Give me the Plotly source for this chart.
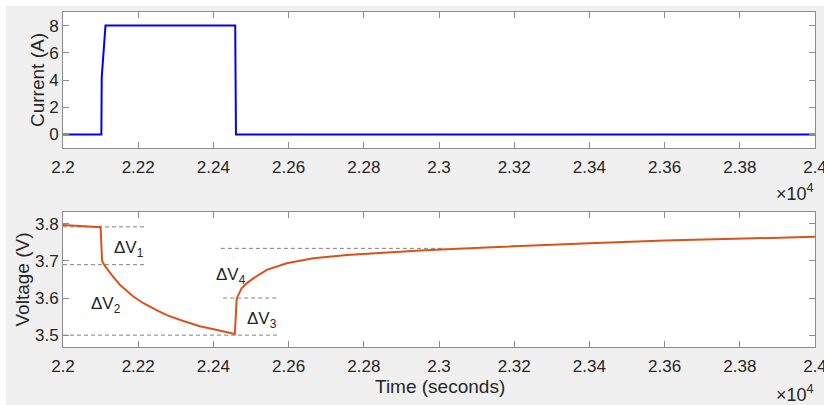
import plotly.graph_objects as go

W, H = 824, 405

# ---------------- data ----------------
cur_t = [22000, 22102, 22103, 22113, 22458, 22460, 24000]
cur_i = [0, 0, 4.2, 8, 8, 0, 0]

volt_t = [22000, 22050, 22100, 22104, 22112, 22130, 22152, 22187, 22214, 22250, 22276,
          22320, 22364, 22410, 22457, 22460, 22462, 22475, 22490, 22506, 22542, 22595,
          22666, 22755, 22843, 22950, 23050, 23200, 23400, 23600, 23800, 24000]
volt_v = [3.797, 3.794, 3.791, 3.700, 3.686, 3.662, 3.635, 3.604, 3.586, 3.567, 3.554,
          3.538, 3.524, 3.514, 3.503, 3.560, 3.599, 3.626, 3.641, 3.653, 3.676, 3.694,
          3.707, 3.716, 3.722, 3.728, 3.733, 3.740, 3.748, 3.755, 3.760, 3.765]

# dashed reference levels: (start time, end time, voltage)
ref_start = [22000, 22000, 22000, 22426, 22420]
ref_end = [22218, 22220, 22577, 22572, 23016]
ref_level = [3.792, 3.690, 3.500, 3.600, 3.734]

# delta labels: text, time, voltage
dv_text = ["ΔV<sub>1</sub>", "ΔV<sub>2</sub>", "ΔV<sub>4</sub>", "ΔV<sub>3</sub>"]
dv_t = [22130, 22069, 22402, 22484]
dv_v = [3.733, 3.582, 3.659, 3.541]

x_tickvals = [22000, 22200, 22400, 22600, 22800, 23000, 23200, 23400, 23600, 23800, 24000]
x_ticktext = ["2.2", "2.22", "2.24", "2.26", "2.28", "2.3", "2.32", "2.34", "2.36", "2.38", "2.4"]
cur_ticks = [0, 2, 4, 6, 8]
volt_ticks = [3.5, 3.6, 3.7, 3.8]
volt_ticktext = ["3.5", "3.6", "3.7", "3.8"]

# ---------------- figure ----------------
FONT = "Liberation Sans, Arial, Helvetica, sans-serif"
TXT = "#262626"
AX = "#8c8c8c"

fig = go.Figure()
fig.add_trace(go.Scatter(x=cur_t, y=cur_i, mode="lines",
                         line=dict(color="#0000ff", width=2), xaxis="x", yaxis="y",
                         showlegend=False))
for s, e, v in zip(ref_start, ref_end, ref_level):
    fig.add_trace(go.Scatter(x=[s, e], y=[v, v], mode="lines",
                             line=dict(color="#808080", width=1, dash="4px,3px"),
                             xaxis="x2", yaxis="y2", showlegend=False))
fig.add_trace(go.Scatter(x=volt_t, y=volt_v, mode="lines",
                         line=dict(color="#D95319", width=2), xaxis="x2", yaxis="y2",
                         showlegend=False))

def px_x(p):
    return p / W

def px_y(p):
    return 1 - p / H

xdom = [px_x(63), px_x(815)]
common_x = dict(range=[22000, 24000], tickvals=x_tickvals, ticktext=x_ticktext,
                ticks="inside", ticklen=6, tickcolor=AX, showline=True, linecolor=AX,
                linewidth=1, mirror="ticks", showgrid=False, zeroline=False,
                tickfont=dict(family=FONT, size=17, color=TXT), automargin=False,
                ticklabeloverflow="allow", ticklabelstandoff=4)
common_y = dict(ticks="inside", ticklen=6, tickcolor=AX, showline=True, linecolor=AX,
                linewidth=1, mirror="ticks", showgrid=False, zeroline=False,
                tickfont=dict(family=FONT, size=17, color=TXT), automargin=False)

fig.update_layout(
    width=W, height=H,
    margin=dict(l=0, r=0, t=0, b=0),
    paper_bgcolor="#f0f0f0", plot_bgcolor="#ffffff",
    xaxis=dict(domain=xdom, anchor="y", **common_x),
    yaxis=dict(domain=[px_y(148), px_y(12)], anchor="x", range=[-1, 9],
               tickvals=cur_ticks, **common_y),
    xaxis2=dict(domain=xdom, anchor="y2", **common_x),
    yaxis2=dict(domain=[px_y(347), px_y(212)], anchor="x2", range=[3.468, 3.832],
                tickvals=volt_ticks, ticktext=volt_ticktext, **common_y),
)

# white outer border strips (left/top) like the reference
fig.add_shape(type="rect", xref="paper", yref="paper", x0=0, x1=px_x(6), y0=0, y1=1,
              fillcolor="#ffffff", line_width=0, layer="above")
fig.add_shape(type="rect", xref="paper", yref="paper", x0=0, x1=1, y0=px_y(6), y1=1,
              fillcolor="#ffffff", line_width=0, layer="above")

# axis titles
fig.add_annotation(text="Current (A)", xref="paper", yref="paper", x=px_x(37), y=px_y(80),
                   textangle=-90, showarrow=False, xanchor="center", yanchor="middle",
                   font=dict(family=FONT, size=19, color=TXT))
fig.add_annotation(text="Voltage (V)", xref="paper", yref="paper", x=px_x(21.5), y=px_y(280),
                   textangle=-90, showarrow=False, xanchor="center", yanchor="middle",
                   font=dict(family=FONT, size=19, color=TXT))
fig.add_annotation(text="Time (seconds)", xref="paper", yref="paper", x=px_x(440), y=px_y(386),
                   showarrow=False, xanchor="center", yanchor="middle",
                   font=dict(family=FONT, size=19, color=TXT))
# exponent labels
for yy in [192, 393]:
    fig.add_annotation(text="×10<sup>4</sup>", xref="paper", yref="paper", x=px_x(816),
                       y=px_y(yy), showarrow=False, xanchor="right", yanchor="middle",
                       font=dict(family=FONT, size=18, color=TXT))

# delta-V labels
for t, tx, v in zip(dv_text, dv_t, dv_v):
    fig.add_annotation(text=t, x=tx, y=v, xref="x2", yref="y2", showarrow=False,
                       xanchor="left", yanchor="middle",
                       font=dict(family=FONT, size=17, color=TXT))

fig.write_html("out.html")
